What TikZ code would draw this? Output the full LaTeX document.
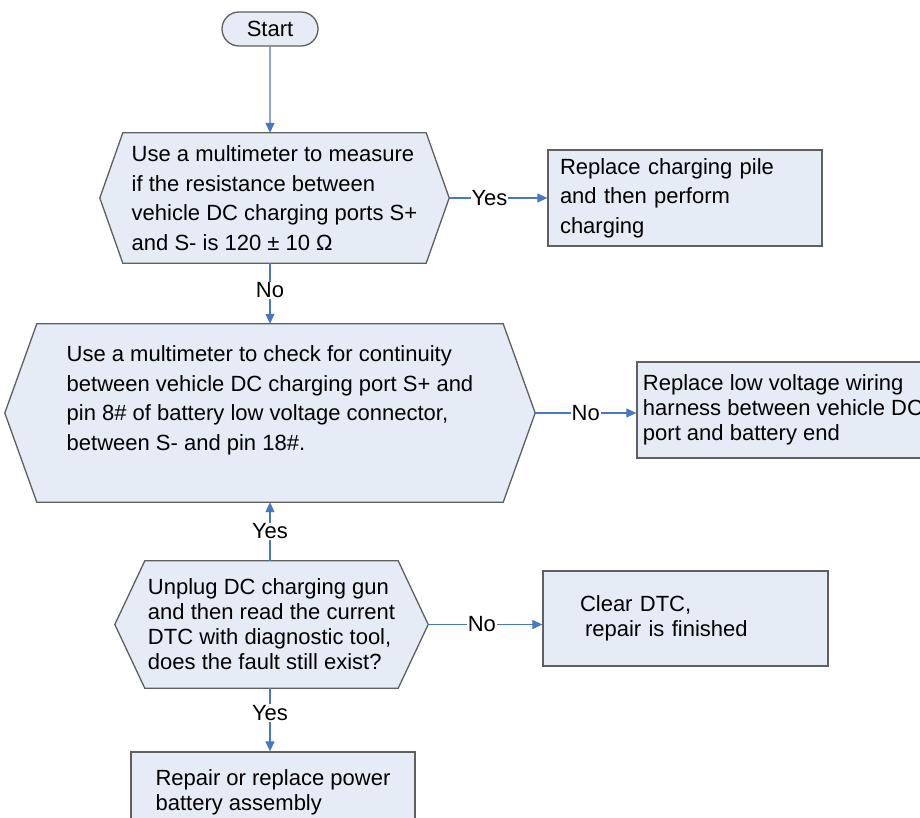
\documentclass[tikz,border=0pt]{standalone}
\usepackage{fontspec}
\setmainfont{Liberation Sans}
\usetikzlibrary{arrows.meta,shapes.misc,calc,backgrounds}

\definecolor{boxfill}{RGB}{229,236,246}
\definecolor{boxline}{RGB}{95,95,95}
\definecolor{flowblue}{RGB}{70,120,195}

\tikzset{
  big/.style={font=\fontsize{22}{29.5}\selectfont},
  small/.style={font=\fontsize{22}{25}\selectfont},
  startstop/.style={rounded rectangle, draw=boxline, fill=boxfill, line width=1.3pt,
    minimum width=96pt, minimum height=34pt, inner sep=0pt},
  decision/.style={align=left, inner sep=0pt},
  action/.style={rectangle, draw=boxline, fill=boxfill, line width=1.3pt,
    align=left, inner sep=0pt},
  flow/.style={draw=flowblue, line width=1.2pt, -{Triangle[length=10pt,width=9pt]}},
  lbl/.style={fill=white, inner sep=1pt, small},
}

% hexagon round a decision node, #2 = depth of the side points
\newcommand\decisionhex[2]{%
  \draw[draw=boxline, fill=boxfill, line width=1.3pt]
    ($(#1.north west)+(#2,0)$) -- ($(#1.north east)-(#2,0)$) -- (#1.east)
    -- ($(#1.south east)-(#2,0)$) -- ($(#1.south west)+(#2,0)$) -- (#1.west) -- cycle;}

\begin{document}
\begin{tikzpicture}[x=1pt, y=-1pt]

  \useasboundingbox (0,0) rectangle (920,818);
  \clip (0,0) rectangle (920,818);

  \node[startstop, small] (start) at (270,29) {Start};

  \node[decision, big, minimum width=349pt, minimum height=130pt] (q1) at (274.5,198)
    {Use a multimeter to measure\\ if the resistance between\\ vehicle DC charging ports S+\\ and S- is 120 ± 10 Ω};
  \node[decision, big, minimum width=530pt, minimum height=178pt] (q2) at (270,413)
    {Use a multimeter to check for continuity\\ between vehicle DC charging port S+ and\\
     pin 8\# of battery low voltage connector,\\ between S- and pin 18\#.\\ \mbox{}};
  \node[decision, small, minimum width=313pt, minimum height=127pt] (q3) at (271.5,624.5)
    {Unplug DC charging gun\\ and then read the current\\ DTC with diagnostic tool,\\ does the fault still exist?};

  \node[action, big, minimum width=274pt, minimum height=96pt, text width=250pt] (a1) at (685,198)
    {Replace charging pile\\ and then perform\\ charging};
  \node[action, small, minimum width=292pt, minimum height=96pt] (a2) at (783,410)
    {Replace low voltage wiring\\ harness between vehicle DC\\ port and battery end};
  \node[action, small, minimum width=285pt, minimum height=95pt, text width=211pt] (a3) at (685.5,618.5)
    {Clear DTC,\\ \hspace{5pt}repair is finished};
  \node[action, small, minimum width=284pt, minimum height=80pt] (a4) at (273,792)
    {Repair or replace power\\ battery assembly};

  \begin{scope}[on background layer]
    \decisionhex{q1}{23}
    \decisionhex{q2}{32}
    \decisionhex{q3}{30}
  \end{scope}

  \draw[flow] (start) -- (start |- q1.north);
  \draw[flow] (q1.east) -- node[lbl, pos=.41] {Yes} (a1.west);
  \draw[flow] (start |- q1.south) -- node[lbl, pos=.45] {No} (start |- q2.north);
  \draw[flow] (q2.east) -- node[lbl] {No} (q2.east -| a2.west);
  \draw[flow] (start |- q3.north) -- node[lbl] {Yes} (start |- q2.south);
  \draw[flow] (q3.east) -- node[lbl, pos=.47] {No} (q3.east -| a3.west);
  \draw[flow] (start |- q3.south) -- node[lbl, pos=.39] {Yes} (start |- a4.north);

\end{tikzpicture}
\end{document}
